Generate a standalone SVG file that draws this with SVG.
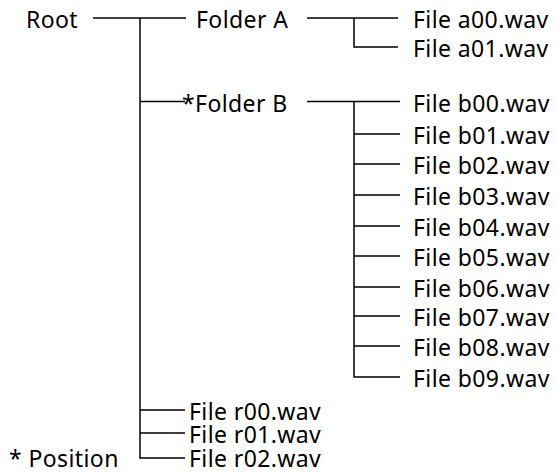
<svg xmlns="http://www.w3.org/2000/svg" width="558" height="474" viewBox="0 0 558 474">
<style>
text{font-family:"Noto Sans","Open Sans",sans-serif;font-size:23px;letter-spacing:0.4px;fill:#000}
.c path{fill:none;stroke:#000;stroke-width:1.5}
</style>
<rect width="558" height="474" fill="#fff"/>
<g class="c" id="connectors">
<path d="M93 18H186"/>
<path d="M140 18V458H185"/>
<path d="M140 101.5H185"/>
<path d="M140 410H185M140 433H185"/>
<path d="M307 18H398M354 18V47H398"/>
<path d="M307 101.5H400M354 101.5V377H400"/>
<path d="M354 134H400M354 164H400M354 195H400M354 226H400M354 256H400M354 287H400M354 316H400M354 346H400"/>
</g>
<g id="root"><text x="26" y="28">Root</text></g>
<g id="folderA"><text x="196" y="28">Folder A</text></g>
<g id="a00"><text x="413" y="28">File a00.wav</text></g>
<g id="a01"><text x="413" y="57">File a01.wav</text></g>
<g id="folderB"><text x="182" y="111.5">*Folder B</text></g>
<g id="b00"><text x="413" y="111.5">File b00.wav</text></g>
<g id="b01"><text x="413" y="144">File b01.wav</text></g>
<g id="b02"><text x="413" y="174">File b02.wav</text></g>
<g id="b03"><text x="413" y="205">File b03.wav</text></g>
<g id="b04"><text x="413" y="236">File b04.wav</text></g>
<g id="b05"><text x="413" y="266">File b05.wav</text></g>
<g id="b06"><text x="413" y="297">File b06.wav</text></g>
<g id="b07"><text x="413" y="326">File b07.wav</text></g>
<g id="b08"><text x="413" y="356">File b08.wav</text></g>
<g id="b09"><text x="413" y="387">File b09.wav</text></g>
<g id="r00"><text x="189" y="420">File r00.wav</text></g>
<g id="r01"><text x="189" y="443">File r01.wav</text></g>
<g id="r02"><text x="189" y="467">File r02.wav</text></g>
<g id="legend"><text x="9" y="466.5">* Position</text></g>
</svg>
